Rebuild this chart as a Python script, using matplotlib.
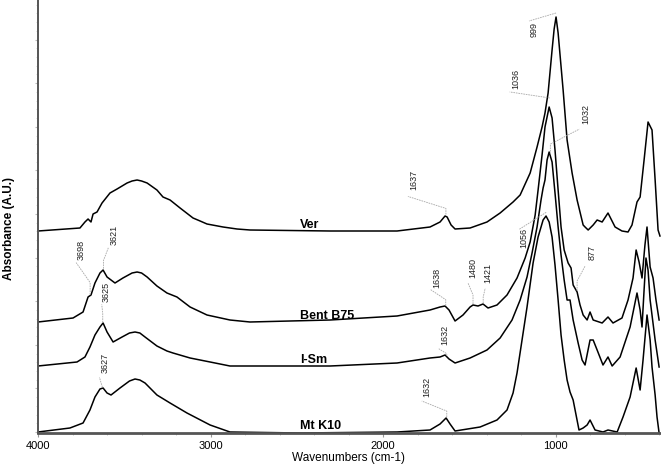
import numpy as np
import matplotlib
matplotlib.use("Agg")
import matplotlib.pyplot as plt
from matplotlib.ticker import MultipleLocator, NullFormatter

plt.rcParams['font.family'] = ['Liberation Sans', 'DejaVu Sans']

# spectra (wavenumber cm-1, absorbance above own baseline)
ver_wn = [4000, 3757, 3728, 3710, 3693, 3681, 3658, 3629, 3583, 3542, 3484, 3455, 3426, 3400, 3368, 3311,
          3276, 3235, 3177, 3102, 3061, 3021, 2928, 2847, 2772, 2308, 1920, 1729, 1671, 1642, 1630, 1607,
          1584, 1497, 1399, 1323, 1248, 1207, 1149, 1109, 1080, 1063, 1045, 1022, 1010, 999, 987, 958,
          935, 906, 877, 842, 831, 813, 784, 761, 732, 698, 657, 617, 582, 559, 530, 512, 489, 466, 443,
          425, 408, 397]
ver_abs = [0.00, 0.03, 0.09, 0.12, 0.09, 0.17, 0.19, 0.28, 0.38, 0.42, 0.48, 0.50, 0.51, 0.50, 0.48, 0.41,
           0.34, 0.31, 0.23, 0.13, 0.10, 0.07, 0.04, 0.02, 0.01, 0.00, 0.00, 0.04, 0.09, 0.15, 0.14, 0.06,
           0.02, 0.03, 0.09, 0.18, 0.29, 0.36, 0.58, 0.84, 1.04, 1.18, 1.38, 1.81, 2.02, 2.14, 1.98, 1.41,
           0.91, 0.58, 0.31, 0.06, 0.04, 0.01, 0.06, 0.11, 0.09, 0.18, 0.04, 0.00, -0.01, 0.06, 0.29, 0.34,
           0.71, 1.09, 1.01, 0.51, 0.01, -0.05]

bent_wn = [4000, 3797, 3739, 3710, 3693, 3670, 3641, 3623, 3600, 3554, 3508, 3455, 3426, 3400, 3368, 3311,
           3253, 3195, 3119, 3021, 2888, 2772, 2308, 1920, 1729, 1671, 1642, 1619, 1584, 1538, 1497, 1480,
           1451, 1422, 1393, 1341, 1283, 1225, 1178, 1149, 1120, 1103, 1080, 1063, 1039, 1022, 1005, 987,
           970, 952, 929, 912, 900, 877, 860, 842, 819, 802, 784, 732, 698, 669, 617, 582, 553, 535, 518,
           501, 484, 472, 454, 437, 420, 402]
bent_abs = [0.00, 0.04, 0.10, 0.25, 0.27, 0.39, 0.49, 0.52, 0.45, 0.39, 0.44, 0.49, 0.50, 0.49, 0.45, 0.36,
            0.29, 0.25, 0.15, 0.07, 0.02, 0.00, 0.02, 0.06, 0.12, 0.15, 0.16, 0.12, 0.01, 0.07, 0.15, 0.17,
            0.16, 0.18, 0.14, 0.17, 0.27, 0.44, 0.64, 0.80, 1.07, 1.32, 1.67, 1.95, 2.15, 2.04, 1.72, 1.32,
            0.95, 0.72, 0.59, 0.54, 0.37, 0.30, 0.17, 0.07, 0.02, 0.10, 0.02, -0.01, 0.05, -0.01, 0.04,
            0.22, 0.44, 0.72, 0.60, 0.44, 0.77, 0.95, 0.55, 0.44, 0.22, 0.02]

ism_wn = [4000, 3774, 3728, 3699, 3670, 3641, 3623, 3600, 3565, 3513, 3470, 3438, 3410, 3380, 3311, 3253,
          3218, 3119, 3003, 2888, 2308, 1920, 1729, 1671, 1642, 1619, 1584, 1497, 1399, 1323, 1254, 1207,
          1167, 1138, 1109, 1086, 1074, 1063, 1051, 1039, 1022, 1005, 987, 970, 952, 935, 918, 900, 871,
          848, 831, 802, 784, 761, 727, 698, 674, 628, 570, 530, 512, 501, 489, 478, 466, 454, 425, 402]
ism_abs = [0.00, 0.04, 0.09, 0.19, 0.31, 0.39, 0.43, 0.34, 0.24, 0.29, 0.33, 0.34, 0.33, 0.29, 0.20, 0.15,
           0.13, 0.08, 0.04, 0.00, 0.00, 0.03, 0.08, 0.09, 0.11, 0.07, 0.03, 0.08, 0.16, 0.28, 0.46, 0.66,
           0.89, 1.13, 1.39, 1.66, 1.78, 1.86, 2.06, 2.14, 2.04, 1.73, 1.39, 1.11, 0.86, 0.66, 0.66, 0.46,
           0.23, 0.06, 0.01, 0.26, 0.26, 0.16, 0.01, 0.09, 0.00, 0.09, 0.39, 0.73, 0.56, 0.39, 0.76, 1.08,
           0.96, 0.66, 0.26, -0.01]

mt_wn = [4000, 3815, 3739, 3699, 3670, 3641, 3623, 3600, 3577, 3525, 3470, 3438, 3410, 3380, 3311, 3235,
         3137, 3003, 2888, 2482, 1920, 1729, 1671, 1636, 1613, 1584, 1439, 1341, 1283, 1248, 1225, 1196,
         1167, 1132, 1103, 1074, 1057, 1039, 1022, 1005, 987, 970, 952, 935, 918, 900, 883, 866, 842, 819,
         802, 773, 727, 698, 645, 611, 570, 535, 512, 495, 472, 454, 443, 425, 414, 402]
mt_abs = [0.00, 0.04, 0.09, 0.22, 0.35, 0.43, 0.44, 0.39, 0.37, 0.44, 0.51, 0.53, 0.52, 0.49, 0.37, 0.29,
          0.19, 0.07, 0.00, -0.01, 0.00, 0.02, 0.08, 0.14, 0.08, 0.01, 0.05, 0.12, 0.22, 0.39, 0.59, 0.92,
          1.25, 1.69, 1.95, 2.12, 2.16, 2.10, 1.95, 1.67, 1.32, 0.97, 0.72, 0.52, 0.40, 0.32, 0.17, 0.02,
          0.04, 0.07, 0.12, 0.02, 0.00, 0.02, 0.00, 0.15, 0.35, 0.64, 0.42, 0.72, 1.17, 0.92, 0.65, 0.37,
          0.15, -0.01]

names = ["Ver", "Bent B75", "I-Sm", "Mt K10"]
offsets = [2.01, 1.10, 0.66, 0.00]
spectra = [(ver_wn, ver_abs), (bent_wn, bent_abs), (ism_wn, ism_abs), (mt_wn, mt_abs)]

# peak labels: (label, trace index)
peak_labels = [("999", 0), ("1036", 1), ("1032", 2), ("1637", 0), ("3698", 1), ("3621", 1),
               ("3625", 2), ("3627", 3), ("1638", 1), ("1480", 1), ("1421", 1), ("1632", 2),
               ("1632", 3), ("1056", 3), ("877", 1)]
# leader layout in pixels: gap above trace, vertical length, line start dx/dy, text dx/dy
leader_px = [(4, 0, -27, -8, -22, -17), (11, 0, -40, 6, -34, 19), (2, 10, 29, 15, 35, 30),
             (2, 6, -38, 12, -32, 28), (1, 12, -14, 20, -9, 33), (2, 8, 5, 13, 11, 26),
             (1, 9, -1, 9, 3, 22), (1, 0, -3, 10, 3, 24), (1, 6, -15, 10, -9, 22),
             (1, 9, -5, 12, 0, 27), (1, 6, 2, 9, 5, 24), (1, 2, -8, 5, -2, 19),
             (2, 6, -25, 10, -20, 24), (4, 0, -27, -17, -22, -26), (1, 10, 8, 15, 15, 29)]

W, H = 661, 469
fig = plt.figure(figsize=(W / 100, H / 100), dpi=100)
ax = fig.add_axes([38 / W, (H - 433) / H, (W - 38) / W, 433 / H])
xlo, xhi = 4000, 391
ylo, yhi = -0.01, 4.32
ax.set_xlim(xlo, xhi)
ax.set_ylim(ylo, yhi)
sx = (xlo - xhi) / (W - 38)   # cm-1 per pixel
sy = (yhi - ylo) / 433        # absorbance per pixel

for (wn, ab), off, name in zip(spectra, offsets, names):
    ax.plot(wn, np.array(ab) + off, color='black', lw=1.1, solid_joinstyle='round')
    ax.text(2482, off + 0.03, name, fontsize=9, fontweight='bold', ha='left', va='baseline')

for (lab, ti), (gap, vlen, sdx, sdy, tdx, tdy) in zip(peak_labels, leader_px):
    wn, ab = spectra[ti]
    w0 = float(lab)
    y0 = np.interp(w0, wn[::-1], (np.array(ab) + offsets[ti])[::-1]) + gap * sy
    y1 = y0 + vlen * sy
    xs = [w0, w0, w0 - sdx * sx]
    ys = [y0, y1, y1 + sdy * sy]
    ax.plot(xs, ys, color='#a8a8a8', lw=0.6, ls=(0, (2, 1)))
    ax.text(w0 - tdx * sx, y1 + tdy * sy, lab, rotation=90, fontsize=6.5, color='#222222',
            ha='center', va='center')

ax.set_xticks([4000, 3000, 2000, 1000])
ax.xaxis.set_minor_locator(MultipleLocator(200))
ax.yaxis.set_major_locator(MultipleLocator(0.436))
ax.yaxis.set_minor_locator(MultipleLocator(0.0872))
ax.yaxis.set_major_formatter(NullFormatter())
ax.tick_params(axis='x', which='major', length=3, color='#999999', labelsize=8, pad=3)
ax.tick_params(axis='x', which='minor', length=1.5, color='#bbbbbb')
ax.tick_params(axis='y', which='major', length=2.5, color='#bbbbbb')
ax.tick_params(axis='y', which='minor', length=1.5, color='#cccccc')

for s in ['top', 'right']:
    ax.spines[s].set_visible(False)
ax.spines['left'].set_color('#555555')
ax.spines['left'].set_linewidth(1.4)
ax.spines['bottom'].set_color('#555555')
ax.spines['bottom'].set_linewidth(2.0)

fig.text(348 / W, 1 - 458 / H, "Wavenumbers (cm-1)", fontsize=8.5, ha='center', va='center')
fig.text(9 / W, 1 - 228 / H, "Absorbance (A.U.)", fontsize=8.5, fontweight='bold', rotation=90,
         ha='center', va='center')

fig.savefig("out.png", dpi=100)
